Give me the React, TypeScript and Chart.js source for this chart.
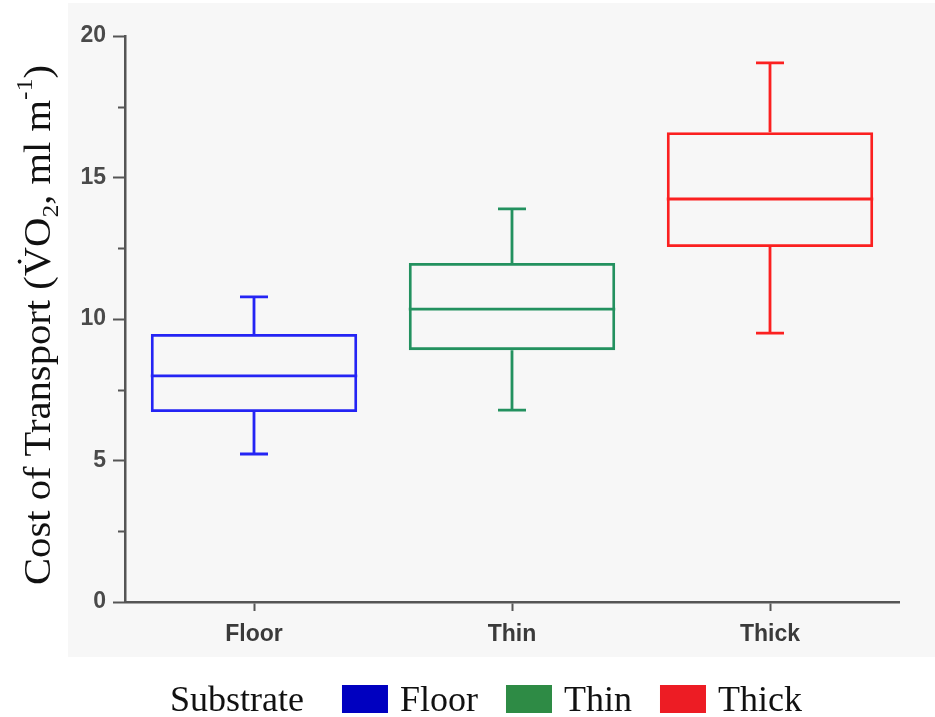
import React, { useEffect, useRef } from "react";
import { Chart, registerables } from "chart.js";

Chart.register(...registerables);

// Substrate groups and their box-plot statistics (cost of transport)
const categories = ["Floor", "Thin", "Thick"];
const whiskerLow = [5.23, 6.78, 9.5];
const quartile1 = [6.71, 8.9, 12.54];
const medians = [7.99, 10.35, 14.24];
const quartile3 = [9.47, 11.98, 16.6];
const whiskerHigh = [10.78, 13.89, 19.05];
const minorTicks = [2.5, 7.5, 12.5, 17.5];

const boxColors = ["#2424f4", "#23915f", "#fb2020"];
const legendColors = ["#0000c0", "#2e8b45", "#ed1c24"];
const legendTitle = "Substrate";

const AXIS_COLOR = "#555555";
const SERIF = '"Liberation Serif", "Times New Roman", serif';
const SANS = '"Liberation Sans", Arial, sans-serif';

const panelPlugin = {
  id: "panel",
  beforeDraw(chart: any) {
    const { ctx, width, height } = chart;
    ctx.save();
    ctx.fillStyle = "#ffffff";
    ctx.fillRect(0, 0, width, height);
    ctx.fillStyle = "#f7f7f7";
    ctx.fillRect(68, 3, width - 68, 654);
    ctx.restore();
  },
};

const boxPlugin = {
  id: "boxExtras",
  afterDatasetsDraw(chart: any) {
    const { ctx } = chart;
    const y = chart.scales.y;
    const meta = chart.getDatasetMeta(0);
    ctx.save();
    ctx.lineWidth = 2.8;
    ctx.lineCap = "butt";
    categories.forEach((_, i) => {
      const bar = meta.data[i];
      const cx = bar.x;
      const half = bar.width / 2;
      const cap = 14;
      ctx.strokeStyle = boxColors[i];
      ctx.beginPath();
      // median
      ctx.moveTo(cx - half, y.getPixelForValue(medians[i]));
      ctx.lineTo(cx + half, y.getPixelForValue(medians[i]));
      // upper whisker
      ctx.moveTo(cx, y.getPixelForValue(quartile3[i]));
      ctx.lineTo(cx, y.getPixelForValue(whiskerHigh[i]));
      ctx.moveTo(cx - cap, y.getPixelForValue(whiskerHigh[i]));
      ctx.lineTo(cx + cap, y.getPixelForValue(whiskerHigh[i]));
      // lower whisker
      ctx.moveTo(cx, y.getPixelForValue(quartile1[i]));
      ctx.lineTo(cx, y.getPixelForValue(whiskerLow[i]));
      ctx.moveTo(cx - cap, y.getPixelForValue(whiskerLow[i]));
      ctx.lineTo(cx + cap, y.getPixelForValue(whiskerLow[i]));
      ctx.stroke();
    });
    ctx.restore();
  },
};

const minorTickPlugin = {
  id: "minorTicks",
  afterDraw(chart: any) {
    const { ctx, chartArea } = chart;
    const y = chart.scales.y;
    ctx.save();
    ctx.strokeStyle = AXIS_COLOR;
    ctx.lineWidth = 2;
    ctx.beginPath();
    minorTicks.forEach((v) => {
      const py = Math.round(y.getPixelForValue(v)) + 0.5;
      ctx.moveTo(chartArea.left - 7, py);
      ctx.lineTo(chartArea.left, py);
    });
    ctx.stroke();
    ctx.restore();
  },
};

const axisTitlePlugin = {
  id: "axisTitle",
  afterDraw(chart: any) {
    const { ctx } = chart;
    const size = 38;
    const span = 520;
    const small = Math.round(size * 0.62);
    const main = `${size}px ${SERIF}`;
    const sub = `${small}px ${SERIF}`;
    const parts: { t: string; f: string; dy: number; dot?: boolean }[] = [
      { t: "Cost of Transport (", f: main, dy: 0 },
      { t: "V", f: main, dy: 0, dot: true },
      { t: "O", f: main, dy: 0 },
      { t: "2", f: sub, dy: size * 0.2 },
      { t: ", ml m", f: main, dy: 0 },
      { t: "-1", f: sub, dy: -size * 0.48 },
      { t: ")", f: main, dy: 0 },
    ];
    ctx.save();
    let total = 0;
    const widths = parts.map((p) => {
      ctx.font = p.f;
      const w = ctx.measureText(p.t).width;
      total += w;
      return w;
    });
    ctx.translate(50, 325);
    ctx.rotate(-Math.PI / 2);
    ctx.scale(span / total, 1);
    ctx.fillStyle = "#111111";
    ctx.textBaseline = "alphabetic";
    ctx.textAlign = "left";
    let x = -total / 2;
    parts.forEach((p, i) => {
      ctx.font = p.f;
      ctx.fillText(p.t, x, p.dy);
      if (p.dot) {
        ctx.beginPath();
        ctx.arc(x + widths[i] / 2, -size * 0.8, size * 0.05, 0, Math.PI * 2);
        ctx.fill();
      }
      x += widths[i];
    });
    ctx.restore();
  },
};

const legendPlugin = {
  id: "substrateLegend",
  afterDraw(chart: any) {
    const { ctx } = chart;
    const baseline = 711;
    ctx.save();
    ctx.font = `36px ${SERIF}`;
    ctx.fillStyle = "#111111";
    ctx.textBaseline = "alphabetic";
    let x = 170;
    ctx.fillText(legendTitle, x, baseline);
    x += ctx.measureText(legendTitle).width + 38;
    categories.forEach((c, i) => {
      ctx.fillStyle = legendColors[i];
      ctx.fillRect(x, 685, 46, 28);
      x += 46 + 12;
      ctx.fillStyle = "#111111";
      ctx.fillText(c, x, baseline);
      x += ctx.measureText(c).width + 28;
    });
    ctx.restore();
  },
};

export default function App() {
  const canvasRef = useRef<HTMLCanvasElement | null>(null);

  useEffect(() => {
    document.body.style.margin = "0";
    const canvas = canvasRef.current;
    if (!canvas) return;
    const chart = new Chart(canvas, {
      type: "bar",
      data: {
        labels: categories,
        datasets: [
          {
            label: legendTitle,
            data: categories.map((_, i) => [quartile1[i], quartile3[i]]) as any,
            backgroundColor: "rgba(0,0,0,0)",
            borderColor: boxColors,
            borderWidth: 2.8,
            borderSkipped: false,
            barPercentage: 0.8,
            categoryPercentage: 1,
          },
        ],
      },
      options: {
        animation: false,
        responsive: false,
        maintainAspectRatio: false,
        devicePixelRatio: 1,
        layout: { padding: { top: 36, right: 36, bottom: 55, left: 0 } },
        plugins: {
          legend: { display: false },
          tooltip: { enabled: false },
        },
        scales: {
          x: {
            type: "category",
            offset: true,
            afterFit: (s: any) => {
              s.height = 60;
            },
            grid: {
              offset: false,
              drawOnChartArea: false,
              drawTicks: true,
              tickLength: 9,
              tickColor: AXIS_COLOR,
              tickWidth: 2,
            },
            border: { display: true, color: AXIS_COLOR, width: 2.5 },
            ticks: {
              color: "#3a3a3a",
              padding: 10,
              font: { family: SANS, size: 23, weight: "bold" },
            },
          },
          y: {
            min: 0,
            max: 20,
            afterFit: (s: any) => {
              s.width = 125;
            },
            grid: {
              drawOnChartArea: false,
              drawTicks: true,
              tickLength: 12,
              tickColor: AXIS_COLOR,
              tickWidth: 2,
            },
            border: { display: true, color: AXIS_COLOR, width: 2.5 },
            ticks: {
              stepSize: 5,
              color: "#4a4a4a",
              padding: 7,
              font: { family: SANS, size: 23, weight: "bold" },
            },
          },
        },
      } as any,
      plugins: [panelPlugin, boxPlugin, minorTickPlugin, axisTitlePlugin, legendPlugin],
    });
    return () => chart.destroy();
  }, []);

  return (
    <div style={{ width: 935, height: 717 }}>
      <canvas ref={canvasRef} width={935} height={717} />
    </div>
  );
}
